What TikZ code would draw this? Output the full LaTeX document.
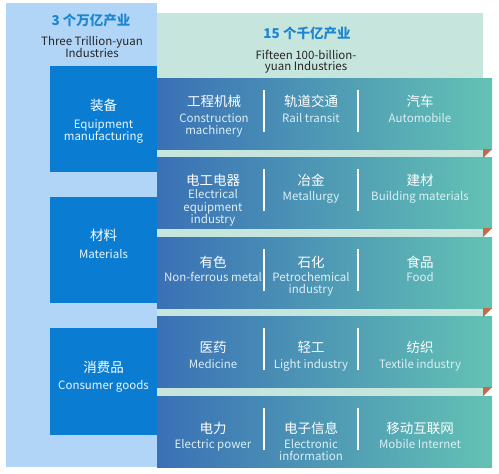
\documentclass[tikz,border=0pt]{standalone}
\usepackage{fontspec}
\setmainfont{Noto Sans CJK SC}
\definecolor{lightblue}{HTML}{B0D5F7}
\definecolor{lightgreen}{HTML}{C6E6DD}
\definecolor{darkblue}{HTML}{0A7DD2}
\definecolor{bandleft}{HTML}{3A70B5}
\definecolor{bandright}{HTML}{63C2B4}
\definecolor{foldcol}{HTML}{C4694A}
\definecolor{headblue}{HTML}{1C86D0}
\definecolor{headtext}{HTML}{262626}
\definecolor{encol}{HTML}{DCEFF5}
\begin{document}
\begin{tikzpicture}[x=1pt,y=-1pt,
  zh/.style={anchor=base, inner sep=0pt, text=white, font=\fontsize{13.5}{15}\selectfont},
  en/.style={anchor=base, inner sep=0pt, text=encol, font=\fontsize{11.5}{13}\selectfont},
  boxzh/.style={zh},
  boxen/.style={en, text=white!92!darkblue},
  headzh/.style={anchor=base, inner sep=0pt, text=headblue, font=\fontsize{13.5}{15}\selectfont\bfseries},
  heden/.style={anchor=base, inner sep=0pt, text=headtext, font=\fontsize{11.5}{13}\selectfont},
  band/.style={left color=bandleft, right color=bandright},
  divider/.style={draw=white, line width=1.3pt},
  fold/.style={fill=foldcol}]
\useasboundingbox (0,0) rectangle (499,474);
% background panels
\fill[lightblue] (6,3) rectangle (157,467);
\fill[lightgreen] (157,13) rectangle (483,467);
% left category boxes
\fill[darkblue] (50,66) rectangle (157,172);
\fill[darkblue] (50,197) rectangle (157,303);
\fill[darkblue] (50,328) rectangle (157,435);
% bands
\foreach \t in {78,157,237,316,396}{
  \shade[band] (157,\t) rectangle (492,\t+71);
  \draw[divider] (264,\t+12) -- (264,\t+54);
  \draw[divider] (358,\t+12) -- (358,\t+54);
}
\foreach \b in {149,228,308,387}{
  \fill[fold] (483,\b) -- (492,\b) -- (483,\b+9) -- cycle;
}
% headers
\node[headzh] (h1) at (91,25) {3 个万亿产业};
\node[heden] (h1a) at (92,45.5) {Three Trillion-yuan};
\node[heden] (h1b) at (92,57.5) {Industries};
\node[headzh] (h2) at (307,38) {15 个千亿产业};
\node[heden] (h2a) at (306,59) {Fifteen 100-billion-};
\node[heden] (h2b) at (306,70.5) {yuan Industries};
% category labels
\node[boxzh] (c1) at (103.5,110) {装备};
\node[boxen] (c1a) at (103.5,128.5) {Equipment};
\node[boxen] (c1b) at (103.5,140.5) {manufacturing};
\node[boxzh] (c2) at (103.5,240) {材料};
\node[boxen] (c2a) at (103.5,258.5) {Materials};
\node[boxzh] (c3) at (103.5,372) {消费品};
\node[boxen] (c3a) at (103.5,389.5) {Consumer goods};
% band 1
\node[zh] (a1) at (214,106) {工程机械};
\node[en] (a1a) at (214,122.5) {Construction};
\node[en] (a1b) at (214,134) {machinery};
\node[zh] (a2) at (311,106) {轨道交通};
\node[en] (a2a) at (311,122.5) {Rail transit};
\node[zh] (a3) at (420,106) {汽车};
\node[en] (a3a) at (420,122.5) {Automobile};
% band 2
\node[zh] (b1) at (213,185.5) {电工电器};
\node[en] (b1a) at (213,198) {Electrical};
\node[en] (b1b) at (213,211) {equipment};
\node[en] (b1c) at (213,223) {industry};
\node[zh] (b2) at (311,185.5) {冶金};
\node[en] (b2a) at (311,200.5) {Metallurgy};
\node[zh] (b3) at (420,185.5) {建材};
\node[en] (b3a) at (420,200.5) {Building materials};
% band 3
\node[zh] (d1) at (213,267) {有色};
\node[en] (d1a) at (213,281.5) {Non-ferrous metal};
\node[zh] (d2) at (311,267) {石化};
\node[en] (d2a) at (311,281.5) {Petrochemical};
\node[en] (d2b) at (311,293.5) {industry};
\node[zh] (d3) at (420,267) {食品};
\node[en] (d3a) at (420,281.5) {Food};
% band 4
\node[zh] (e1) at (213,352) {医药};
\node[en] (e1a) at (213,368) {Medicine};
\node[zh] (e2) at (311,352) {轻工};
\node[en] (e2a) at (311,368) {Light industry};
\node[zh] (e3) at (420,352) {纺织};
\node[en] (e3a) at (420,368) {Textile industry};
% band 5
\node[zh] (f1) at (213,433) {电力};
\node[en] (f1a) at (213,448.5) {Electric power};
\node[zh] (f2) at (311,433) {电子信息};
\node[en] (f2a) at (311,448.5) {Electronic};
\node[en] (f2b) at (311,460.5) {information};
\node[zh] (f3) at (420,433) {移动互联网};
\node[en] (f3a) at (420,448.5) {Mobile Internet};
\end{tikzpicture}
\end{document}
